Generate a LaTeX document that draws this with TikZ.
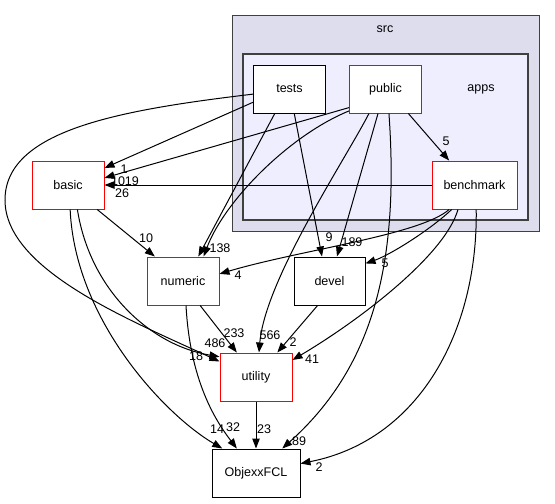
\documentclass[tikz,border=0pt]{standalone}
\usepackage{fontspec}
\setmainfont{Liberation Sans}
\usetikzlibrary{arrows.meta}
\definecolor{srcfill}{HTML}{DDDDEE}
\definecolor{appsfill}{HTML}{EEEEFF}
\definecolor{clgray}{HTML}{404040}
\begin{document}
\begin{tikzpicture}[x=0.75pt,y=-0.75pt,font=\fontsize{9.4}{11}\selectfont,
    >={Triangle[length=7.5pt,width=5.6pt]}, line width=0.75pt]
    \tikzset{d/.style={draw, fill=white, minimum width=54pt, minimum height=36pt, inner sep=1pt},
      r/.style={d, draw=red},
      n/.style={inner sep=0pt}}
    \useasboundingbox (0,0) rectangle (555,503);
    % clusters
    \draw[clgray, fill=srcfill] (232,16) rectangle (539,231);
    \node[n] (src) at (385,29) {src};
    \draw[clgray, fill=appsfill, line width=1pt] (243,54) rectangle (528,220);
    \node[n] (apps) at (481,89) {apps};
    % directories
    \node[d] (tests) at (289.5,89) {tests};
    \node[r] (public) at (385.5,89) {public};
    \node[r, minimum width=63.75pt] (benchmark) at (474.5,185) {benchmark};
    \node[r] (basic) at (68,185) {basic};
    \node[r] (numeric) at (183,281) {numeric};
    \node[d, minimum width=53.25pt] (devel) at (329.5,281) {devel};
    \node[r] (utility) at (256,377) {utility};
    \node[d, minimum width=66pt] (ObjexxFCL) at (256,473) {ObjexxFCL};
    % dependencies
    \draw[->] (tests.-160) -- (basic.25);
    \draw[->] (public.207) -- (basic.11);
    \draw[->] (benchmark.west) -- (basic.east);
    \draw[->] (basic.-40) -- (numeric.139);
    \draw[->] (tests.-121) -- (numeric.58);
    \draw[->] (public.211) .. controls (290,135) and (225,200) .. (numeric.50);
    \draw[->] (benchmark.-136) .. controls (420,235) and (300,250) .. (numeric.11);
    \draw[->] (tests.-79) -- (devel.107);
    \draw[->] (public.-107) -- (devel.73);
    \draw[->] (benchmark.-133) .. controls (430,230) and (390,255) .. (devel.26);
    \draw[->] (tests.188) .. controls (120,110) and (5,130) .. (5,200)
      .. controls (5,270) and (130,320) .. (utility.157);
    \draw[->] (basic.-69) .. controls (90,290) and (150,345) .. (utility.151);
    \draw[->] (numeric.-55) -- (utility.128);
    \draw[->] (public.-124) .. controls (345,160) and (265,280) .. (utility.83);
    \draw[->] (devel.-116) -- (utility.49);
    \draw[->] (benchmark.-124) .. controls (445,255) and (360,320) .. (utility.25);
    \draw[->] (basic.-85) .. controls (75,320) and (165,415) .. (ObjexxFCL.144);
    \draw[->] (numeric.-83) .. controls (190,380) and (215,420) .. (ObjexxFCL.128);
    \draw[->] (utility) -- (ObjexxFCL);
    \draw[->] (public.-82) .. controls (400,270) and (370,370) .. (ObjexxFCL.43);
    \draw[->] (benchmark.-86) .. controls (478,330) and (420,440) .. (ObjexxFCL.12);
    \draw[->] (public.-47) -- (benchmark.136);
    % counts
    \node[n] (c1) at (124,169) {1};
    \node[n] (c1019) at (125,181) {1019};
    \node[n] (c26) at (122,193) {26};
    \node[n] (c10) at (146,238) {10};
    \node[n] (c138) at (220,248) {138};
    \node[n] (c4) at (238,275) {4};
    \node[n] (c9) at (329,237) {9};
    \node[n] (c189) at (352,242) {189};
    \node[n] (c5b) at (385,263) {5};
    \node[n] (c18) at (196,356) {18};
    \node[n] (c486) at (215,343) {486};
    \node[n] (c233) at (234,333) {233};
    \node[n] (c566) at (270,335) {566};
    \node[n] (c2u) at (293,342) {2};
    \node[n] (c41) at (312,359) {41};
    \node[n] (c14) at (217,429) {14};
    \node[n] (c32) at (233,427) {32};
    \node[n] (c23) at (264,429) {23};
    \node[n] (c89) at (299,441) {89};
    \node[n] (c2o) at (319,467) {2};
    \node[n] (c5) at (446,141) {5};
  \end{tikzpicture}
\end{document}
